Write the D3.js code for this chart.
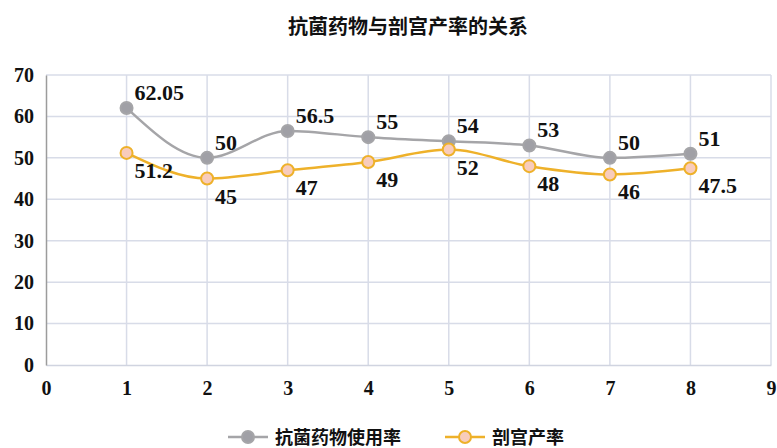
<html>
<head>
<meta charset="utf-8">
<title>抗菌药物与剖宫产率的关系</title>
<style>
  html, body { margin: 0; padding: 0; background: #fff; }
  .tick text { font-family: "Liberation Serif", serif; font-weight: bold; font-size: 20px; fill: #111; }
  .lbl { font-family: "Liberation Serif", serif; font-weight: bold; font-size: 22px; fill: #111; }
  .cjk { font-family: "Noto Sans CJK SC", sans-serif; font-weight: bold; fill: #111; }
</style>
</head>
<body>
<svg id="viz"></svg>
<script src="https://d3js.org/d3.v7.min.js"></script>
<script>
// chart data
var xs = [1, 2, 3, 4, 5, 6, 7, 8];
var antibioticRate = [62.05, 50, 56.5, 55, 54, 53, 50, 51];
var csectionRate = [51.2, 45, 47, 49, 52, 48, 46, 47.5];
var xTicks = [0, 1, 2, 3, 4, 5, 6, 7, 8, 9];
var yTicks = [0, 10, 20, 30, 40, 50, 60, 70];
var seriesNames = ["抗菌药物使用率", "剖宫产率"];

var width = 777;
var height = 448;
var margin = {top: 75, right: 6, bottom: 83, left: 46};

var svg = d3.select("#viz").attr("width", width).attr("height", height);

var x = d3.scaleLinear().domain([0, 9]).range([margin.left, width - margin.right]);
var y = d3.scaleLinear().domain([0, 70]).range([height - margin.bottom, margin.top]);

// title
svg.append("text")
    .attr("class", "cjk")
    .attr("x", 408)
    .attr("y", 34)
    .attr("text-anchor", "middle")
    .style("font-size", "20px")
    .text("抗菌药物与剖宫产率的关系");

// grid
var grid = svg.append("g");
grid.selectAll("line.h")
    .data(yTicks.filter(function(d) { return d > 0; }))
    .enter().append("line")
    .attr("x1", x(0)).attr("x2", x(9))
    .attr("y1", function(d) { return y(d); })
    .attr("y2", function(d) { return y(d); })
    .attr("stroke", "#d8dce8").attr("stroke-width", 1.5);
grid.selectAll("line.v")
    .data(xTicks.filter(function(d) { return d > 0; }))
    .enter().append("line")
    .attr("x1", function(d) { return x(d); })
    .attr("x2", function(d) { return x(d); })
    .attr("y1", y(0)).attr("y2", y(70))
    .attr("stroke", "#d8dce8").attr("stroke-width", 1.5);

// axes
var xAxis = svg.append("g")
    .attr("transform", "translate(0," + y(0) + ")")
    .call(d3.axisBottom(x).tickValues(xTicks).tickSize(0).tickPadding(16).tickFormat(d3.format("d")));
xAxis.select(".domain").attr("stroke", "#d0d4e0").attr("stroke-width", 1.5);

var yAxis = svg.append("g")
    .attr("transform", "translate(" + x(0) + ",0)")
    .call(d3.axisLeft(y).tickValues(yTicks).tickSize(0).tickPadding(12).tickFormat(d3.format("d")));
yAxis.select(".domain").attr("stroke", "#9c9c9c").attr("stroke-width", 1.5);

// lines
var line = d3.line()
    .x(function(d) { return x(d[0]); })
    .y(function(d) { return y(d[1]); })
    .curve(d3.curveMonotoneX);

var series = [
  {name: seriesNames[0], values: antibioticRate, stroke: "#a5a5a8", fill: "#a0a0a6", labelDy: -8},
  {name: seriesNames[1], values: csectionRate, stroke: "#eeb12a", fill: "#f8ccbc", labelDy: 25}
];

series.forEach(function(s) {
  var pts = xs.map(function(v, i) { return [v, s.values[i]]; });
  svg.append("path")
      .attr("d", line(pts))
      .attr("fill", "none")
      .attr("stroke", s.stroke)
      .attr("stroke-width", 2.5);
  svg.append("g").selectAll("circle")
      .data(pts).enter().append("circle")
      .attr("cx", function(d) { return x(d[0]); })
      .attr("cy", function(d) { return y(d[1]); })
      .attr("r", 6)
      .attr("fill", s.fill)
      .attr("stroke", s.stroke)
      .attr("stroke-width", 2);
  svg.append("g").selectAll("text")
      .data(pts).enter().append("text")
      .attr("class", "lbl")
      .attr("x", function(d) { return x(d[0]) + 8; })
      .attr("y", function(d) { return y(d[1]) + s.labelDy; })
      .text(function(d) { return d[1]; });
});

// legend
var legend = svg.append("g").attr("transform", "translate(0,437)");
var legendX = [228, 445];
series.forEach(function(s, i) {
  var g = legend.append("g").attr("transform", "translate(" + legendX[i] + ",0)");
  g.append("line").attr("x1", 0).attr("x2", 40).attr("y1", 0).attr("y2", 0)
      .attr("stroke", s.stroke).attr("stroke-width", 2.5);
  g.append("circle").attr("cx", 20).attr("cy", 0).attr("r", 6)
      .attr("fill", s.fill).attr("stroke", s.stroke).attr("stroke-width", 2);
  g.append("text").attr("class", "cjk")
      .attr("x", 47).attr("y", 7)
      .style("font-size", "18px")
      .text(s.name);
});
</script>
</body>
</html>
